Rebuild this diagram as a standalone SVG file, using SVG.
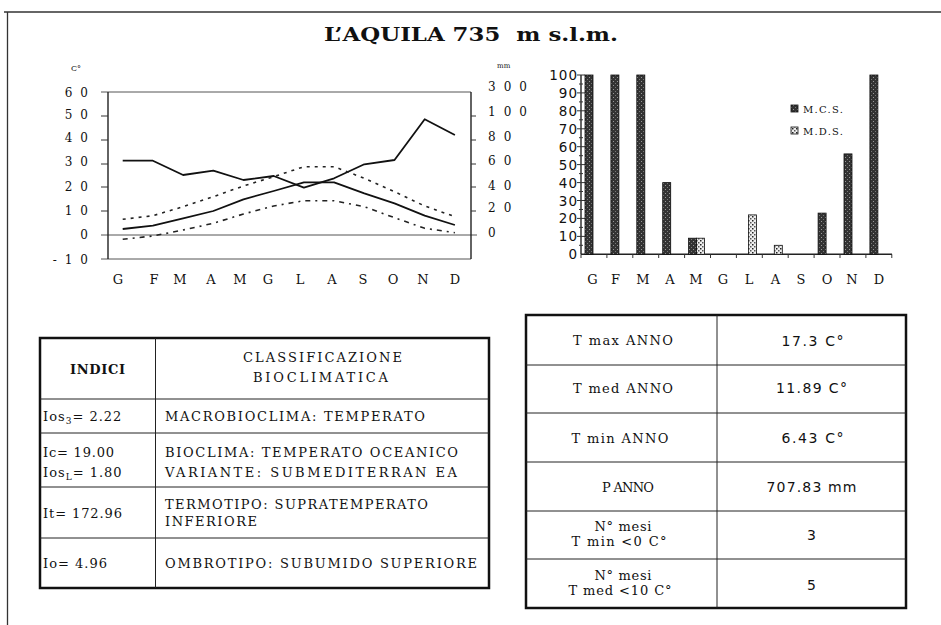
<svg xmlns="http://www.w3.org/2000/svg" width="941" height="625" viewBox="0 0 941 625">
<defs>
<style>
.serif{font-family:"DejaVu Serif","Liberation Serif",serif;fill:#111}
.sans{font-family:"DejaVu Sans","Liberation Sans",sans-serif;fill:#111}
.ax{stroke:#222;stroke-width:1.4;fill:none}
.thin{stroke:#555;stroke-width:1;fill:none}
.tick{stroke:#333;stroke-width:1;fill:none}
.lbl{font-size:12px;letter-spacing:8px}
.ylab{font-size:13.5px;letter-spacing:1px}
.mon{font-size:13px}
.tb{font-size:13px}
.vb{font-size:14px}
.cell{stroke:#222;stroke-width:1;fill:none}
.outer{stroke:#111;stroke-width:2.5;fill:#fff}
.solid{stroke:#111;stroke-width:1.8;fill:none;stroke-linejoin:round}
.dot{stroke:#222;stroke-width:1.6;fill:none;stroke-dasharray:3 5}
.dashdot{stroke:#222;stroke-width:1.6;fill:none;stroke-dasharray:5 5 2 5}
.bar{stroke:#111;stroke-width:0.8}
.frame{stroke:#333;stroke-width:1.3;fill:none}
</style>
<pattern id="pcs" width="4" height="4" patternUnits="userSpaceOnUse">
<rect width="4" height="4" fill="#333"/>
<rect x="1" y="1" width="1" height="1" fill="#999"/>
<rect x="3" y="3" width="1" height="1" fill="#777"/>
</pattern>
<pattern id="pds" width="4" height="4" patternUnits="userSpaceOnUse">
<rect width="4" height="4" fill="#eee"/>
<rect x="0" y="0" width="1.5" height="1.5" fill="#222"/>
<rect x="2" y="2" width="1.5" height="1.5" fill="#555"/>
</pattern>
</defs>
<rect width="941" height="625" fill="#fff"/>
<g id="frame">
<line class="frame" x1="4" y1="12" x2="941" y2="12"/>
<line class="frame" x1="7.5" y1="12" x2="7.5" y2="625"/>
</g>
<g id="title">
<text class="serif" x="324" y="41" font-size="18" font-weight="bold" textLength="294" lengthAdjust="spacingAndGlyphs" style="white-space:pre">L’AQUILA 735  m s.l.m.</text>
</g>
<g id="climate-chart">
<text class="serif" x="71" y="71" font-size="8">C°</text>
<text class="serif" x="497" y="68" font-size="7">mm</text>
<line class="thin" x1="101" y1="92" x2="471" y2="92"/>
<line class="thin" x1="101" y1="259" x2="471" y2="259"/>
<line class="thin" x1="101" y1="235" x2="477" y2="235"/>
<line class="ax" x1="108" y1="92" x2="108" y2="259"/>
<line class="ax" x1="471" y1="92" x2="471" y2="259"/>
<g class="tick">
<line x1="101" y1="116" x2="108" y2="116"/><line x1="101" y1="140" x2="108" y2="140"/><line x1="101" y1="164" x2="108" y2="164"/><line x1="101" y1="187" x2="108" y2="187"/><line x1="101" y1="211" x2="108" y2="211"/>
<line x1="471" y1="116" x2="476" y2="116"/><line x1="471" y1="140" x2="476" y2="140"/><line x1="471" y1="164" x2="476" y2="164"/><line x1="471" y1="187" x2="476" y2="187"/><line x1="471" y1="211" x2="476" y2="211"/>
</g>
<g class="serif lbl" text-anchor="end">
<text x="96" y="96.5">60</text>
<text x="96" y="119">50</text>
<text x="96" y="142">40</text>
<text x="96" y="166">30</text>
<text x="96" y="191">20</text>
<text x="96" y="215">10</text>
<text x="96" y="239">0</text>
<text x="96" y="263.5">-10</text>
</g>
<g class="serif lbl">
<text x="488" y="90.5">300</text>
<text x="488" y="115.5">100</text>
<text x="488" y="140.5">80</text>
<text x="488" y="164.5">60</text>
<text x="488" y="189.5">40</text>
<text x="488" y="211.5">20</text>
<text x="488" y="236.5">0</text>
</g>
<g class="serif mon" text-anchor="middle">
<text x="118" y="284">G</text><text x="154" y="284">F</text><text x="180" y="284">M</text><text x="211" y="284">A</text><text x="240" y="284">M</text><text x="268" y="284">G</text><text x="300" y="284">L</text><text x="332" y="284">A</text><text x="363" y="284">S</text><text x="393" y="284">O</text><text x="423" y="284">N</text><text x="455" y="284">D</text>
</g>
<polyline class="solid" points="122.7,160.7 152.9,160.7 183.1,175 213.3,170.7 243.5,180 273.7,176 303.9,187.7 334.1,178.3 364.3,164.3 394.5,160 424.7,119.3 454.9,135"/>
<polyline class="solid" points="122.7,229 152.9,225.7 183.1,218.3 213.3,211 243.5,199.3 273.7,191 303.9,182.3 334.1,182.3 364.3,193.3 394.5,203.3 424.7,215.7 454.9,225"/>
<polyline class="dot" points="122.7,219.3 152.9,215.7 183.1,206.7 213.3,196.7 243.5,186 273.7,176.7 303.9,166.7 334.1,166.7 364.3,178.3 394.5,191.7 424.7,206 454.9,216.7"/>
<polyline class="dashdot" points="122.7,239.3 152.9,236 183.1,230 213.3,223.3 243.5,214 273.7,206 303.9,200.7 334.1,200.7 364.3,206.7 394.5,217.7 424.7,228.3 454.9,232.7"/>
</g>
<g id="stress-chart">
<line class="ax" x1="581" y1="75" x2="581" y2="254.3" stroke-width="1"/>
<line class="ax" x1="581" y1="254.3" x2="892" y2="254.3" stroke-width="1"/>
<g class="tick">
<line x1="577" y1="75" x2="585" y2="75"/><line x1="579" y1="84" x2="583" y2="84"/>
<line x1="577" y1="92.9" x2="585" y2="92.9"/><line x1="579" y1="101.9" x2="583" y2="101.9"/>
<line x1="577" y1="110.8" x2="585" y2="110.8"/><line x1="579" y1="119.8" x2="583" y2="119.8"/>
<line x1="577" y1="128.8" x2="585" y2="128.8"/><line x1="579" y1="137.7" x2="583" y2="137.7"/>
<line x1="577" y1="146.7" x2="585" y2="146.7"/><line x1="579" y1="155.7" x2="583" y2="155.7"/>
<line x1="577" y1="164.6" x2="585" y2="164.6"/><line x1="579" y1="173.6" x2="583" y2="173.6"/>
<line x1="577" y1="182.6" x2="585" y2="182.6"/><line x1="579" y1="191.5" x2="583" y2="191.5"/>
<line x1="577" y1="200.5" x2="585" y2="200.5"/><line x1="579" y1="209.5" x2="583" y2="209.5"/>
<line x1="577" y1="218.4" x2="585" y2="218.4"/><line x1="579" y1="227.4" x2="583" y2="227.4"/>
<line x1="577" y1="236.4" x2="585" y2="236.4"/><line x1="579" y1="245.3" x2="583" y2="245.3"/>
<line x1="581" y1="254.3" x2="581" y2="258"/><line x1="606.9" y1="254.3" x2="606.9" y2="258"/><line x1="632.8" y1="254.3" x2="632.8" y2="258"/><line x1="658.7" y1="254.3" x2="658.7" y2="258"/><line x1="684.6" y1="254.3" x2="684.6" y2="258"/><line x1="710.5" y1="254.3" x2="710.5" y2="258"/><line x1="736.4" y1="254.3" x2="736.4" y2="258"/><line x1="762.3" y1="254.3" x2="762.3" y2="258"/><line x1="788.2" y1="254.3" x2="788.2" y2="258"/><line x1="814.1" y1="254.3" x2="814.1" y2="258"/><line x1="840" y1="254.3" x2="840" y2="258"/><line x1="865.9" y1="254.3" x2="865.9" y2="258"/><line x1="891.8" y1="254.3" x2="891.8" y2="258"/>
</g>
<g class="sans ylab" text-anchor="end">
<text x="578" y="80">100</text><text x="578" y="97.9">90</text><text x="578" y="115.8">80</text><text x="578" y="133.8">70</text><text x="578" y="151.7">60</text><text x="578" y="169.6">50</text><text x="578" y="187.6">40</text><text x="578" y="205.5">30</text><text x="578" y="223.4">20</text><text x="578" y="241.4">10</text><text x="578" y="259.3">0</text>
</g>
<g class="bar" fill="url(#pcs)">
<rect x="585" y="75" width="8" height="179.3"/>
<rect x="610.9" y="75" width="8" height="179.3"/>
<rect x="636.8" y="75" width="8" height="179.3"/>
<rect x="662.7" y="182.6" width="8" height="71.7"/>
<rect x="688.6" y="238.2" width="8" height="16.1"/>
<rect x="818.1" y="213.1" width="8" height="41.2"/>
<rect x="844" y="153.9" width="8" height="100.4"/>
<rect x="869.9" y="75" width="8" height="179.3"/>
</g>
<g class="bar" fill="url(#pds)">
<rect x="696.6" y="238.2" width="8" height="16.1"/>
<rect x="748.4" y="214.9" width="8" height="39.4"/>
<rect x="774.3" y="245.3" width="8" height="9"/>
</g>
<rect class="bar" x="791" y="105" width="7" height="7" fill="url(#pcs)"/>
<text class="serif" x="803" y="112.5" font-size="10" textLength="40">M.C.S.</text>
<rect class="bar" x="791" y="127" width="7" height="7" fill="url(#pds)"/>
<text class="serif" x="803" y="134.5" font-size="10" textLength="40">M.D.S.</text>
<g class="serif mon" text-anchor="middle">
<text x="592.5" y="284">G</text><text x="615.5" y="284">F</text><text x="643" y="284">M</text><text x="670" y="284">A</text><text x="696" y="284">M</text><text x="723" y="284">G</text><text x="749" y="284">L</text><text x="775.5" y="284">A</text><text x="801" y="284">S</text><text x="827" y="284">O</text><text x="852" y="284">N</text><text x="879" y="284">D</text>
</g>
</g>
<g id="table-indici">
<rect class="outer" x="40" y="338" width="449" height="250"/>
<g class="cell">
<line x1="155.5" y1="338" x2="155.5" y2="588"/>
<line x1="40" y1="399" x2="489" y2="399"/>
<line x1="40" y1="433" x2="489" y2="433"/>
<line x1="40" y1="487" x2="489" y2="487"/>
<line x1="40" y1="538" x2="489" y2="538"/>
</g>
<g class="serif tb">
<text x="97.5" y="374" text-anchor="middle" font-weight="bold" textLength="55">INDICI</text>
<text x="322.5" y="362" text-anchor="middle" textLength="159">CLASSIFICAZIONE</text>
<text x="320.5" y="382" text-anchor="middle" textLength="135">BIOCLIMATICA</text>
<text x="43" y="421" letter-spacing="1">Ios<tspan font-size="9" dy="3">3</tspan><tspan dy="-3">= 2.22</tspan></text>
<text x="165" y="421" textLength="260">MACROBIOCLIMA: TEMPERATO</text>
<text x="43" y="457" textLength="71">Ic= 19.00</text>
<text x="43" y="477" letter-spacing="1">Ios<tspan font-size="9" dy="3">L</tspan><tspan dy="-3">= 1.80</tspan></text>
<text x="165" y="457" textLength="293">BIOCLIMA: TEMPERATO OCEANICO</text>
<text x="165" y="477" textLength="292">VARIANTE: SUBMEDITERRAN EA</text>
<text x="43" y="518" textLength="79">It= 172.96</text>
<text x="165" y="509" textLength="263">TERMOTIPO: SUPRATEMPERATO</text>
<text x="165" y="526" textLength="92">INFERIORE</text>
<text x="43" y="568" textLength="64">Io= 4.96</text>
<text x="165" y="568" textLength="312">OMBROTIPO: SUBUMIDO SUPERIORE</text>
</g>
</g>
<g id="table-annual">
<rect class="outer" x="526" y="315" width="380" height="293"/>
<g class="cell">
<line x1="717" y1="315" x2="717" y2="608"/>
<line x1="526" y1="365" x2="906" y2="365"/>
<line x1="526" y1="413" x2="906" y2="413"/>
<line x1="526" y1="462" x2="906" y2="462"/>
<line x1="526" y1="511" x2="906" y2="511"/>
<line x1="526" y1="559" x2="906" y2="559"/>
</g>
<g class="serif tb" text-anchor="middle">
<text x="623" y="345" textLength="100">T max ANNO</text>
<text x="623" y="393" textLength="100">T med ANNO</text>
<text x="620" y="443" textLength="97">T min ANNO</text>
<text x="628" y="492" textLength="52">P ANNO</text>
<text x="623" y="531" textLength="57">N° mesi</text>
<text x="619" y="546" textLength="95">T min &lt;0 C°</text>
<text x="623" y="580" textLength="57">N° mesi</text>
<text x="620" y="595" textLength="103">T med &lt;10 C°</text>
</g>
<g class="sans vb" text-anchor="middle">
<text x="812.5" y="346" textLength="62">17.3 C°</text>
<text x="811.5" y="393" textLength="71">11.89 C°</text>
<text x="812.5" y="443" textLength="62">6.43 C°</text>
<text x="811.5" y="492" textLength="90">707.83 mm</text>
<text x="811.5" y="540">3</text>
<text x="811.5" y="590">5</text>
</g>
</g>
</svg>
